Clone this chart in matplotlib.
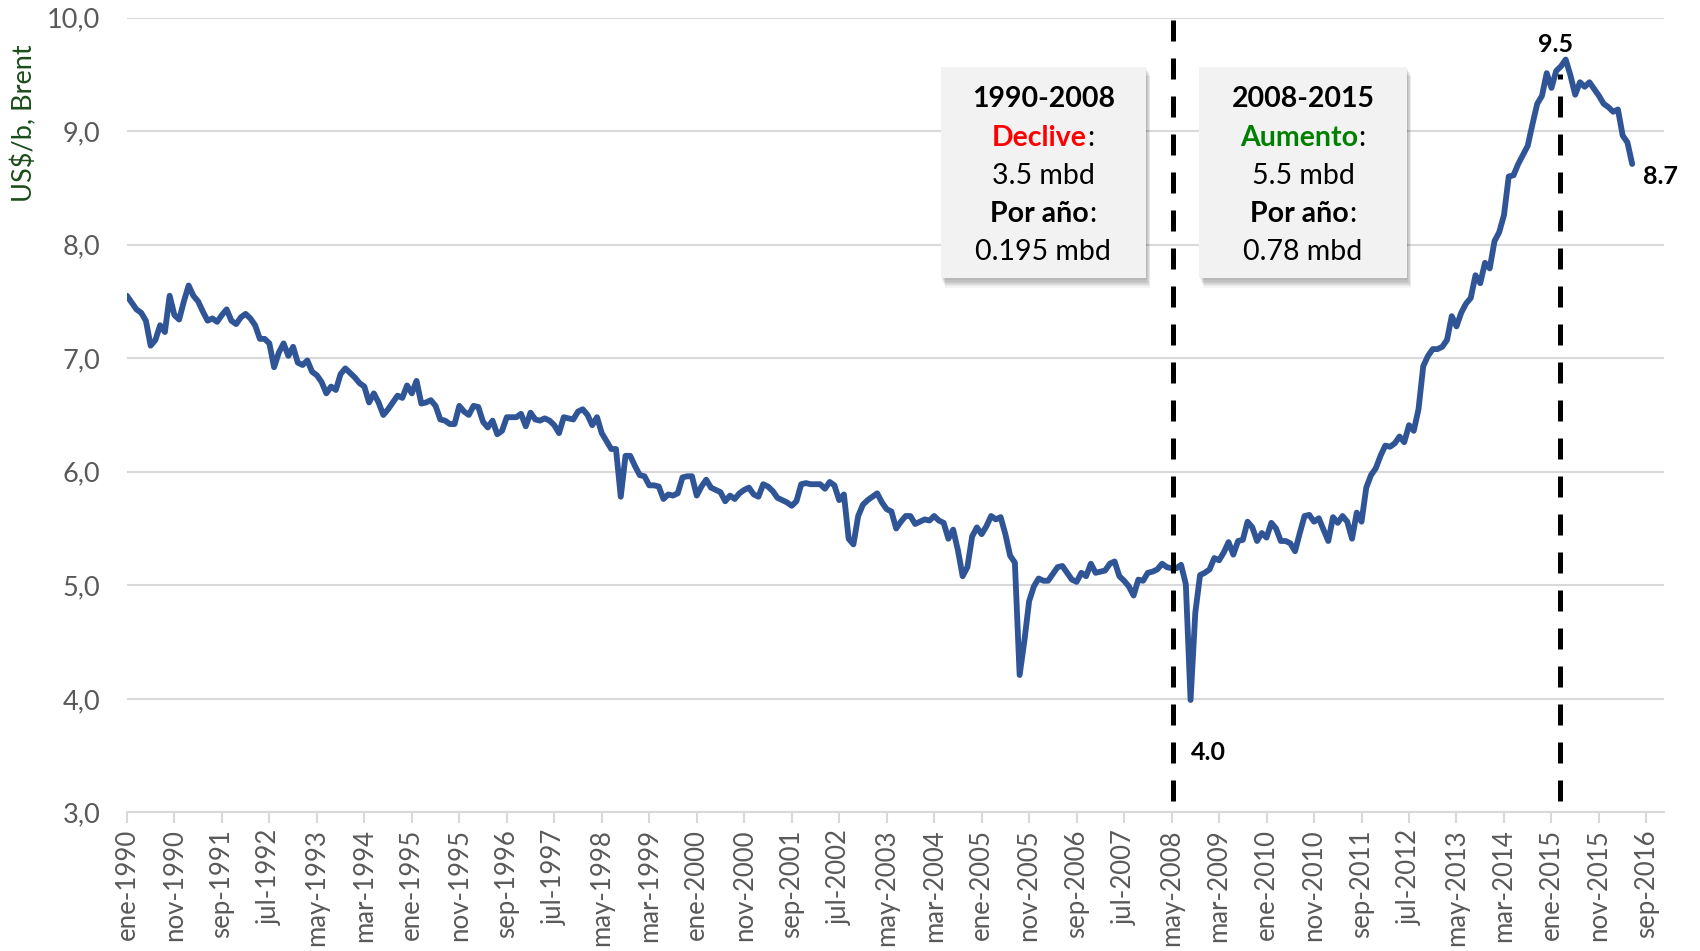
import matplotlib
matplotlib.use("Agg")
import numpy as np
import matplotlib.pyplot as plt
from matplotlib.patches import Rectangle
from matplotlib.offsetbox import TextArea, HPacker, AnnotationBbox

plt.rcParams['font.family'] = ['Lato', 'DejaVu Sans']

# monthly values, ene-1990 .. jun-2016
produccion = [
    7.55, 7.49, 7.43, 7.40, 7.33, 7.11, 7.16, 7.29, 7.23, 7.55, 7.38, 7.34,  # 1990
    7.50, 7.64, 7.55, 7.50, 7.41, 7.33, 7.35, 7.32, 7.38, 7.43, 7.33, 7.30,  # 1991
    7.36, 7.39, 7.35, 7.29, 7.17, 7.17, 7.13, 6.92, 7.05, 7.13, 7.02, 7.10,  # 1992
    6.96, 6.94, 6.98, 6.88, 6.85, 6.79, 6.69, 6.75, 6.72, 6.86, 6.91, 6.87,  # 1993
    6.83, 6.78, 6.75, 6.61, 6.69, 6.61, 6.50, 6.55, 6.61, 6.67, 6.65, 6.76,  # 1994
    6.69, 6.80, 6.60, 6.61, 6.63, 6.58, 6.46, 6.45, 6.42, 6.42, 6.58, 6.53,  # 1995
    6.50, 6.58, 6.57, 6.44, 6.39, 6.45, 6.33, 6.36, 6.48, 6.48, 6.48, 6.51,  # 1996
    6.40, 6.52, 6.46, 6.45, 6.47, 6.45, 6.41, 6.34, 6.48, 6.47, 6.46, 6.53,  # 1997
    6.55, 6.50, 6.41, 6.48, 6.34, 6.27, 6.20, 6.20, 5.78, 6.14, 6.14, 6.05,  # 1998
    5.97, 5.96, 5.88, 5.88, 5.87, 5.76, 5.80, 5.79, 5.81, 5.95, 5.96, 5.96,  # 1999
    5.79, 5.87, 5.93, 5.86, 5.84, 5.82, 5.74, 5.79, 5.76, 5.81, 5.84, 5.86,  # 2000
    5.80, 5.78, 5.89, 5.87, 5.83, 5.77, 5.75, 5.73, 5.70, 5.74, 5.89, 5.90,  # 2001
    5.89, 5.89, 5.89, 5.85, 5.91, 5.88, 5.75, 5.80, 5.41, 5.36, 5.61, 5.71,  # 2002
    5.75, 5.78, 5.81, 5.73, 5.67, 5.65, 5.50, 5.56, 5.61, 5.61, 5.54, 5.56,  # 2003
    5.58, 5.57, 5.61, 5.57, 5.55, 5.41, 5.49, 5.31, 5.08, 5.16, 5.43, 5.51,  # 2004
    5.45, 5.52, 5.61, 5.58, 5.60, 5.45, 5.26, 5.20, 4.21, 4.51, 4.86, 4.99,  # 2005
    5.06, 5.04, 5.04, 5.10, 5.16, 5.17, 5.11, 5.05, 5.03, 5.11, 5.08, 5.19,  # 2006
    5.11, 5.12, 5.13, 5.19, 5.21, 5.08, 5.04, 4.99, 4.91, 5.05, 5.04, 5.11,  # 2007
    5.12, 5.14, 5.19, 5.16, 5.15, 5.15, 5.18, 5.01, 3.99, 4.76, 5.09, 5.11,  # 2008
    5.14, 5.24, 5.22, 5.29, 5.38, 5.27, 5.39, 5.40, 5.56, 5.51, 5.39, 5.46,  # 2009
    5.42, 5.55, 5.50, 5.39, 5.39, 5.37, 5.30, 5.46, 5.61, 5.62, 5.56, 5.59,  # 2010
    5.49, 5.39, 5.60, 5.55, 5.61, 5.56, 5.41, 5.64, 5.56, 5.86, 5.97, 6.03,  # 2011
    6.14, 6.23, 6.22, 6.25, 6.31, 6.26, 6.41, 6.36, 6.55, 6.93, 7.02, 7.08,  # 2012
    7.08, 7.10, 7.16, 7.37, 7.28, 7.40, 7.48, 7.53, 7.73, 7.66, 7.84, 7.79,  # 2013
    8.03, 8.11, 8.26, 8.60, 8.61, 8.71, 8.79, 8.87, 9.06, 9.24, 9.31, 9.51,  # 2014
    9.38, 9.53, 9.57, 9.63, 9.49, 9.32, 9.43, 9.39, 9.43, 9.37, 9.31, 9.24,  # 2015
    9.21, 9.17, 9.19, 8.96, 8.90, 8.71,                                      # 2016
]

etiquetas_x = [
    'ene-1990', 'nov-1990', 'sep-1991', 'jul-1992', 'may-1993', 'mar-1994',
    'ene-1995', 'nov-1995', 'sep-1996', 'jul-1997', 'may-1998', 'mar-1999',
    'ene-2000', 'nov-2000', 'sep-2001', 'jul-2002', 'may-2003', 'mar-2004',
    'ene-2005', 'nov-2005', 'sep-2006', 'jul-2007', 'may-2008', 'mar-2009',
    'ene-2010', 'nov-2010', 'sep-2011', 'jul-2012', 'may-2013', 'mar-2014',
    'ene-2015', 'nov-2015', 'sep-2016',
]

# month index of the two dashed markers
cortes = [220.2, 301.7]

caja1 = ['1990-2008', ('Declive', 'red'), '3.5 mbd', ('Por año', 'black'), '0.195 mbd']
caja2 = ['2008-2015', ('Aumento', 'green'), '5.5 mbd', ('Por año', 'black'), '0.78 mbd']

W, H = 1700, 951
fig = plt.figure(figsize=(W / 100, H / 100), dpi=100)
ax = fig.add_axes([126.9 / W, 138.6 / H, (1664 - 126.9) / W, (933.5 - 138.6) / H])

x = np.arange(len(produccion))
ax.plot(x, produccion, color='#2F5597', lw=4.2, solid_joinstyle='round',
        solid_capstyle='round', zorder=3)

ax.set_xlim(0, 323.7)
ax.set_ylim(3, 10)
yt = np.arange(3, 10.01, 1.0)
ax.set_yticks(yt)
ax.set_yticklabels([f'{v:.1f}'.replace('.', ',') for v in yt], color='#595959', fontsize=19.5)
ax.set_xticks(np.arange(0, 10 * len(etiquetas_x), 10))
ax.set_xticklabels(etiquetas_x, rotation=90, color='#595959', fontsize=18.5)
ax.tick_params(axis='y', length=0, pad=19)
ax.tick_params(axis='x', length=8, width=1.5, color='#D9D9D9', pad=4)
ax.yaxis.grid(True, color='#D9D9D9', lw=1.5)
ax.set_axisbelow(True)
for s in ['left', 'right', 'top']:
    ax.spines[s].set_visible(False)
ax.spines['bottom'].set_color('#D9D9D9')
ax.spines['bottom'].set_linewidth(1.5)

# dashed markers
ax.plot([cortes[0]] * 2, [3.1, 10.0], color='black', lw=3.6, dashes=(4.2, 3.4),
        zorder=4, clip_on=False)
ax.plot([cortes[1]] * 2, [3.1, 9.5], color='black', lw=3.6, dashes=(4.2, 3.4),
        zorder=4, clip_on=False)

# point labels
ax.text(300.8, 9.76, '9.5', fontsize=18, fontweight='bold', ha='center', va='center')
ax.text(319.3, 8.60, '8.7', fontsize=18, fontweight='bold', ha='left', va='center',
        clip_on=False)
ax.text(224, 3.53, '4.0', fontsize=18, fontweight='bold', ha='left', va='center')

fig.text(24.5 / W, 1 - 123 / H, 'US$/b, Brent', rotation=90, color='#1B4D1B',
         fontsize=19.5, ha='center', va='center')


def caja(x0, x1, y0, y1, lineas):
    # y given in image pixels (top origin)
    w = x1 - x0
    h = y1 - y0
    for i in range(7):
        fig.patches.append(Rectangle(((x0 + 1 + i * 0.6) / W, (H - y1 - 2 - i * 1.2) / H),
                                     w / W, h / H, transform=fig.transFigure,
                                     color='black', alpha=0.045, lw=0, zorder=1))
    fig.patches.append(Rectangle((x0 / W, (H - y1) / H), w / W, h / H,
                                 transform=fig.transFigure, color='#F2F2F2', lw=0, zorder=2))
    cx = (x0 + x1) / 2
    ys = [99, 137.5, 175.5, 214, 252.5]
    for i, (linea, yy) in enumerate(zip(lineas, ys)):
        if isinstance(linea, tuple):
            palabra, col = linea
            pk = HPacker(children=[
                TextArea(palabra, textprops=dict(color=col, fontweight='bold', fontsize=20.5)),
                TextArea(':', textprops=dict(color='black', fontsize=20.5)),
            ], sep=0, align='baseline', pad=0)
            ab = AnnotationBbox(pk, (cx, H - yy), xycoords='figure pixels', frameon=False,
                                box_alignment=(0.5, 0.5), pad=0, zorder=5)
            fig.add_artist(ab)
        else:
            fig.text(cx / W, (H - yy) / H, linea, fontsize=20.5, ha='center', va='center',
                     fontweight='bold' if i == 0 else 'normal', zorder=5)


caja(940.7, 1145.7, 66.7, 278.3, caja1)
caja(1199.3, 1406.7, 66.7, 278.3, caja2)

fig.savefig('out.png', dpi=100)
